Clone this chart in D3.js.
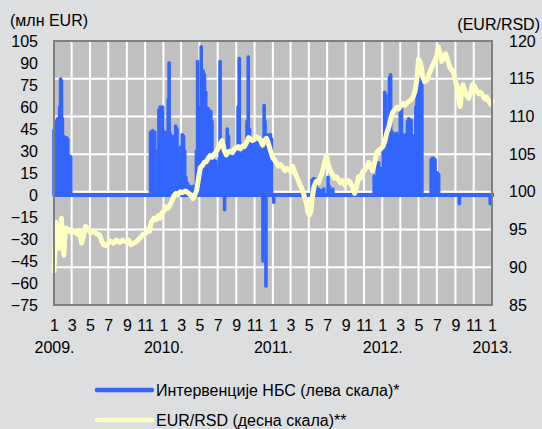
<!DOCTYPE html>
<html>
<head>
<meta charset="utf-8">
<script src="https://cdn.jsdelivr.net/npm/d3@7"></script>
<style>
  body { margin: 0; background: #dddee0; }
  svg { display: block; font-family: "Liberation Sans", Arial, sans-serif; }
</style>
</head>
<body>
<svg id="chart" width="542" height="429"></svg>
<script>
'use strict';

// left scale: interventions, mln EUR
var leftTicks = [105, 90, 75, 60, 45, 30, 15, 0, -15, -30, -45, -60, -75];
// right scale: EUR/RSD
var rightTicks = [120, 115, 110, 105, 100, 95, 90, 85];
var yearLabels = ['2009.', '2010.', '2011.', '2012.', '2013.'];
var legendLabels = ['Интервенције НБС (лева скала)*', 'EUR/RSD (десна скала)**'];

// NBS interventions (date, mln EUR)
var interventions = [
  ['2009-01-01', 44], ['2009-01-04', 44], ['2009-01-07', 44], ['2009-01-10', 50],
  ['2009-01-13', 52], ['2009-01-16', 52], ['2009-01-20', 60], ['2009-01-23', 79],
  ['2009-01-26', 78], ['2009-01-29', 52], ['2009-02-02', 40], ['2009-02-05', 39],
  ['2009-02-09', 39], ['2009-02-12', 39], ['2009-02-16', 38], ['2009-02-19', 27],
  ['2009-02-23', 26], ['2009-02-26', 26],
  ['2009-11-19', 43], ['2009-11-23', 43], ['2009-11-26', 44], ['2009-11-30', 40],
  ['2009-12-03', 43], ['2009-12-07', 30], ['2009-12-12', 3], ['2009-12-17', 58],
  ['2009-12-21', 60], ['2009-12-24', 55], ['2009-12-29', 60],
  ['2010-01-04', 27], ['2010-01-08', 43], ['2010-01-12', 40], ['2010-01-17', 65],
  ['2010-01-20', 90], ['2010-01-23', 42], ['2010-01-27', 40], ['2010-01-30', 38],
  ['2010-02-03', 40], ['2010-02-08', 35], ['2010-02-11', 47], ['2010-02-15', 45],
  ['2010-02-19', 30], ['2010-02-23', 32], ['2010-02-26', 28], ['2010-03-02', 33],
  ['2010-03-05', 41], ['2010-03-09', 40], ['2010-03-13', 30], ['2010-03-17', 12],
  ['2010-03-22', 8], ['2010-03-26', 5], ['2010-03-31', 6], ['2010-04-06', 4],
  ['2010-04-12', 6], ['2010-04-17', 5], ['2010-04-21', 30], ['2010-04-25', 91],
  ['2010-04-29', 35], ['2010-05-03', 60], ['2010-05-07', 101], ['2010-05-11', 85],
  ['2010-05-14', 84], ['2010-05-18', 82], ['2010-05-22', 70], ['2010-05-26', 55],
  ['2010-05-30', 59], ['2010-06-03', 40], ['2010-06-08', 57], ['2010-06-12', 50],
  ['2010-06-16', 25], ['2010-06-20', 20], ['2010-06-25', 23], ['2010-06-29', 18],
  ['2010-07-06', 25], ['2010-07-09', 91], ['2010-07-13', 30], ['2010-07-17', 27],
  ['2010-07-21', 20], ['2010-07-24', -10], ['2010-07-28', 35], ['2010-08-02', 45],
  ['2010-08-06', 40], ['2010-08-10', 30], ['2010-08-15', 27], ['2010-08-19', 25],
  ['2010-08-24', 27], ['2010-08-28', 22], ['2010-09-02', 30], ['2010-09-07', 60],
  ['2010-09-11', 93], ['2010-09-15', 35], ['2010-09-19', 32], ['2010-09-23', 30],
  ['2010-09-27', 33], ['2010-10-02', 28], ['2010-10-07', 50], ['2010-10-11', 94],
  ['2010-10-15', 45], ['2010-10-19', 35], ['2010-10-23', 34], ['2010-10-27', 36],
  ['2010-11-01', 30], ['2010-11-05', 35], ['2010-11-09', 36], ['2010-11-13', 33],
  ['2010-11-17', 35], ['2010-11-22', 33], ['2010-11-26', 30], ['2010-11-29', -45],
  ['2010-12-03', 61], ['2010-12-06', 50], ['2010-12-09', -62], ['2010-12-13', 35],
  ['2010-12-17', 41], ['2010-12-21', 40], ['2010-12-24', 41], ['2010-12-28', 38],
  ['2011-01-04', -5],
  ['2011-05-12', 10], ['2011-05-16', 11], ['2011-05-20', 11], ['2011-05-25', 8],
  ['2011-06-02', 4], ['2011-06-10', 3], ['2011-06-20', 4], ['2011-07-04', 12],
  ['2011-07-08', 6], ['2011-07-20', 4],
  ['2011-12-05', 13], ['2011-12-10', 10], ['2011-12-15', 20], ['2011-12-20', 22],
  ['2011-12-26', 18], ['2012-01-04', 30], ['2012-01-09', 70], ['2012-01-13', 68],
  ['2012-01-17', 43], ['2012-01-21', 45], ['2012-01-25', 80], ['2012-01-29', 82],
  ['2012-02-02', 43], ['2012-02-06', 42], ['2012-02-10', 40], ['2012-02-14', 40],
  ['2012-02-18', 42], ['2012-02-22', 40], ['2012-02-26', 40], ['2012-03-01', 56],
  ['2012-03-05', 59], ['2012-03-09', 40], ['2012-03-13', 40], ['2012-03-17', 41],
  ['2012-03-21', 40], ['2012-03-25', 50], ['2012-03-29', 52], ['2012-04-02', 40],
  ['2012-04-06', 51], ['2012-04-10', 40], ['2012-04-14', 40], ['2012-04-18', 40],
  ['2012-04-22', 60], ['2012-04-26', 81], ['2012-04-30', 83], ['2012-05-04', 80],
  ['2012-05-08', 83], ['2012-05-12', 75],
  ['2012-06-12', 24], ['2012-06-16', 25], ['2012-06-20', 25], ['2012-06-25', 24],
  ['2012-06-29', 15], ['2012-07-03', 15], ['2012-07-07', 14],
  ['2012-09-14', -6], ['2012-12-26', -6]
];

// EUR/RSD exchange rate
var eurRsd = [
  ['2009-01-01', 89.5], ['2009-01-04', 92], ['2009-01-07', 96], ['2009-01-11', 93],
  ['2009-01-14', 95], ['2009-01-17', 92.5], ['2009-01-21', 94.5], ['2009-01-26', 96.5],
  ['2009-01-29', 94], ['2009-02-03', 91.6], ['2009-02-06', 94], ['2009-02-10', 95.2],
  ['2009-02-16', 94.8], ['2009-02-22', 95], ['2009-02-28', 94.6], ['2009-03-10', 94.8],
  ['2009-03-20', 94.4], ['2009-03-26', 94.9], ['2009-04-03', 93.2], ['2009-04-10', 94.2],
  ['2009-04-16', 95.4], ['2009-04-23', 95.2], ['2009-05-03', 94.6], ['2009-05-13', 94.8],
  ['2009-05-23', 94.4], ['2009-06-02', 94.3], ['2009-06-09', 93.5], ['2009-06-15', 93.0],
  ['2009-06-22', 92.9], ['2009-07-01', 93.2], ['2009-07-08', 93.5], ['2009-07-18', 93.2],
  ['2009-07-28', 93.6], ['2009-08-08', 93.3], ['2009-08-18', 93.6], ['2009-08-28', 93.4],
  ['2009-09-07', 93.6], ['2009-09-14', 93.0], ['2009-09-24', 93.2], ['2009-10-03', 93.4],
  ['2009-10-13', 93.8], ['2009-10-24', 94.3], ['2009-11-03', 94.5], ['2009-11-10', 95],
  ['2009-11-16', 94.8], ['2009-11-22', 96], ['2009-11-30', 96.5], ['2009-12-07', 96.3],
  ['2009-12-14', 96.8], ['2009-12-20', 96.5], ['2009-12-27', 97.2],
  ['2010-01-03', 97.5], ['2010-01-10', 98.0], ['2010-01-16', 97.8], ['2010-01-23', 98.3],
  ['2010-01-30', 98.8], ['2010-02-05', 99.5], ['2010-02-12', 99.8], ['2010-02-19', 99.6],
  ['2010-02-26', 100.0], ['2010-03-06', 99.9], ['2010-03-16', 100.1], ['2010-03-26', 99.8],
  ['2010-04-02', 99.6], ['2010-04-09', 99.1], ['2010-04-15', 99.5], ['2010-04-22', 100.2],
  ['2010-04-29', 102.0], ['2010-05-04', 103.2], ['2010-05-11', 103.5], ['2010-05-17', 103.9],
  ['2010-05-24', 104.0], ['2010-05-31', 104.5], ['2010-06-06', 104.8], ['2010-06-13', 104.6],
  ['2010-06-19', 105.0], ['2010-06-26', 105.3], ['2010-07-03', 105.8], ['2010-07-09', 106.3],
  ['2010-07-16', 106.8], ['2010-07-23', 105.5], ['2010-07-30', 104.9], ['2010-08-06', 105.3],
  ['2010-08-12', 105.4], ['2010-08-19', 105.2], ['2010-08-26', 105.7], ['2010-09-02', 105.8],
  ['2010-09-08', 106.0], ['2010-09-15', 105.7], ['2010-09-22', 106.1], ['2010-09-28', 106.0],
  ['2010-10-05', 106.5], ['2010-10-12', 107.2], ['2010-10-18', 107.0], ['2010-10-25', 106.8],
  ['2010-11-01', 107.0], ['2010-11-08', 107.3], ['2010-11-15', 107.1], ['2010-11-21', 106.8],
  ['2010-11-28', 106.2], ['2010-12-04', 106.8], ['2010-12-11', 107.1], ['2010-12-17', 106.4],
  ['2010-12-24', 105.5],
  ['2011-01-01', 104.5], ['2011-01-07', 104.2], ['2011-01-14', 103.8], ['2011-01-20', 103.4],
  ['2011-01-27', 103.6], ['2011-02-03', 103.3], ['2011-02-10', 102.8], ['2011-02-16', 103.1],
  ['2011-02-23', 103.0], ['2011-03-02', 102.7], ['2011-03-08', 103.4], ['2011-03-15', 102.6],
  ['2011-03-22', 101.9], ['2011-03-28', 101.4], ['2011-04-03', 100.8], ['2011-04-10', 100.2],
  ['2011-04-16', 99.4], ['2011-04-23', 98.5], ['2011-04-28', 97.3], ['2011-05-03', 96.9],
  ['2011-05-08', 97.5], ['2011-05-13', 99.4], ['2011-05-19', 100.8], ['2011-05-26', 101.4],
  ['2011-06-02', 101.2], ['2011-06-09', 102.0], ['2011-06-15', 102.6], ['2011-06-22', 103.8],
  ['2011-06-29', 104.8], ['2011-07-05', 103.5], ['2011-07-12', 102.8], ['2011-07-19', 102.3],
  ['2011-07-25', 101.8], ['2011-08-01', 102.0], ['2011-08-08', 101.6], ['2011-08-14', 101.2],
  ['2011-08-21', 101.5], ['2011-08-28', 100.9], ['2011-09-03', 101.2], ['2011-09-10', 101.5],
  ['2011-09-17', 101.2], ['2011-09-24', 100.6], ['2011-10-01', 99.8], ['2011-10-07', 100.6],
  ['2011-10-14', 102.0], ['2011-10-20', 101.8], ['2011-10-27', 102.6], ['2011-11-03', 102.9],
  ['2011-11-10', 103.3], ['2011-11-17', 103.9], ['2011-11-23', 103.4], ['2011-11-30', 102.8],
  ['2011-12-07', 104.0], ['2011-12-14', 105.2], ['2011-12-20', 105.5], ['2011-12-27', 105.7],
  ['2012-01-03', 106.0], ['2012-01-10', 106.8], ['2012-01-16', 107.8], ['2012-01-23', 108.6],
  ['2012-01-30', 109.8], ['2012-02-05', 110.6], ['2012-02-12', 110.9], ['2012-02-19', 111.2],
  ['2012-02-25', 111.0], ['2012-03-03', 111.4], ['2012-03-10', 111.7], ['2012-03-17', 111.5],
  ['2012-03-24', 111.8], ['2012-03-30', 112.0], ['2012-04-06', 112.2], ['2012-04-13', 112.6],
  ['2012-04-19', 113.3], ['2012-04-26', 115.0], ['2012-05-01', 117.6], ['2012-05-06', 117.2],
  ['2012-05-11', 116.4], ['2012-05-15', 115.2], ['2012-05-22', 114.6], ['2012-05-29', 114.8],
  ['2012-06-04', 115.5], ['2012-06-11', 116.2], ['2012-06-18', 116.8], ['2012-06-24', 117.4],
  ['2012-07-01', 118.0], ['2012-07-06', 119.2], ['2012-07-10', 118.6], ['2012-07-17', 117.3],
  ['2012-07-24', 117.8], ['2012-07-30', 118.3], ['2012-08-06', 117.5], ['2012-08-13', 116.5],
  ['2012-08-19', 116.2], ['2012-08-26', 115.8], ['2012-09-02', 114.6], ['2012-09-08', 113.8],
  ['2012-09-13', 112.0], ['2012-09-17', 111.3], ['2012-09-21', 113.0], ['2012-09-26', 114.2],
  ['2012-10-01', 113.5], ['2012-10-08', 112.8], ['2012-10-15', 112.4], ['2012-10-22', 113.2],
  ['2012-10-28', 114.2], ['2012-11-04', 114.0], ['2012-11-11', 113.4], ['2012-11-18', 113.0],
  ['2012-11-24', 113.2], ['2012-12-01', 112.8], ['2012-12-08', 112.3], ['2012-12-14', 112.6],
  ['2012-12-21', 112.0], ['2012-12-28', 111.6], ['2013-01-01', 112.0]
];

var blue = '#3366ff';
var yellow = '#ffffc4';

var plot = {left: 54, right: 492, top: 41, bottom: 305};
var parse = d3.timeParse('%Y-%m-%d');

var x = d3.scaleTime()
    .domain([parse('2009-01-01'), parse('2013-01-01')])
    .range([plot.left, plot.right]);
var yLeft = d3.scaleLinear().domain([-75, 105]).range([plot.bottom, plot.top]);
var yRight = d3.scaleLinear().domain([85, 120]).range([plot.bottom, plot.top]);

var svg = d3.select('#chart');

svg.append('rect')
    .attr('x', plot.left).attr('y', plot.top)
    .attr('width', plot.right - plot.left)
    .attr('height', plot.bottom - plot.top)
    .attr('fill', '#c0c0c0');

// every second month, starting with January
var monthTicks = d3.timeMonth.every(2).range(x.domain()[0], d3.timeDay.offset(x.domain()[1], 1));

// vertical gridlines
svg.append('g')
    .selectAll('line')
    .data(monthTicks.slice(1))
  .enter().append('line')
    .attr('x1', function(d) { return x(d); })
    .attr('x2', function(d) { return x(d); })
    .attr('y1', plot.top).attr('y2', plot.bottom)
    .attr('stroke', '#fff').attr('stroke-width', 2);

// horizontal gridlines follow the right scale
svg.append('g')
    .selectAll('line')
    .data(rightTicks.slice(1, -1))
  .enter().append('line')
    .attr('x1', plot.left).attr('x2', plot.right)
    .attr('y1', function(d) { return yRight(d); })
    .attr('y2', function(d) { return yRight(d); })
    .attr('stroke', '#fff').attr('stroke-width', 2);

// interventions: zero line plus one spike per day
svg.append('line')
    .attr('x1', plot.left).attr('x2', plot.right + 2)
    .attr('y1', yLeft(0)).attr('y2', yLeft(0))
    .attr('stroke', blue).attr('stroke-width', 4);

svg.append('g')
    .selectAll('line')
    .data(interventions)
  .enter().append('line')
    .attr('x1', function(d) { return x(parse(d[0])); })
    .attr('x2', function(d) { return x(parse(d[0])); })
    .attr('y1', yLeft(0))
    .attr('y2', function(d) { return yLeft(d[1]); })
    .attr('stroke', blue)
    .attr('stroke-width', 3.6)
    .attr('stroke-linecap', 'round');

var rateLine = d3.line()
    .x(function(d) { return x(parse(d[0])); })
    .y(function(d) { return yRight(d[1]); });

svg.append('path')
    .datum(eurRsd)
    .attr('d', rateLine)
    .attr('fill', 'none')
    .attr('stroke', yellow)
    .attr('stroke-width', 5)
    .attr('stroke-linejoin', 'round')
    .attr('stroke-linecap', 'round');

// plot frame
svg.append('rect')
    .attr('x', plot.left).attr('y', plot.top)
    .attr('width', plot.right - plot.left)
    .attr('height', plot.bottom - plot.top)
    .attr('fill', 'none')
    .attr('stroke', '#808080').attr('stroke-width', 2);

// axes
function styleAxis(g) {
  g.select('.domain').remove();
  g.selectAll('.tick line').remove();
  g.selectAll('text')
      .attr('fill', '#000')
      .style('font-size', '16px')
      .style('font-family', '"Liberation Sans", Arial, sans-serif');
}

svg.append('g')
    .attr('transform', 'translate(' + plot.left + ',0)')
    .call(d3.axisLeft(yLeft).tickValues(leftTicks).tickSize(0).tickPadding(16))
    .call(styleAxis);

svg.append('g')
    .attr('transform', 'translate(' + plot.right + ',0)')
    .call(d3.axisRight(yRight).tickValues(rightTicks).tickSize(0).tickPadding(17))
    .call(styleAxis);

svg.append('g')
    .attr('transform', 'translate(0,' + plot.bottom + ')')
    .call(d3.axisBottom(x).tickValues(monthTicks).tickSize(0).tickPadding(15)
        .tickFormat(function(d) { return d.getMonth() + 1; }))
    .call(styleAxis);

svg.append('g')
    .attr('transform', 'translate(0,' + (plot.bottom + 37) + ')')
    .call(d3.axisBottom(x)
        .tickValues(yearLabels.map(function(s) { return parse(s.slice(0, 4) + '-01-01'); }))
        .tickSize(0).tickPadding(0)
        .tickFormat(function(d, i) { return yearLabels[i]; }))
    .call(styleAxis);

svg.append('text')
    .attr('x', 10).attr('y', 26)
    .style('font-size', '16px')
    .text('(млн EUR)');

svg.append('text')
    .attr('x', 540).attr('y', 30)
    .attr('text-anchor', 'end')
    .style('font-size', '16px')
    .text('(EUR/RSD)');

// legend
var legend = svg.append('g').selectAll('g')
    .data([blue, yellow])
  .enter().append('g')
    .attr('transform', function(d, i) { return 'translate(97,' + (390 + i * 30) + ')'; });

legend.append('line')
    .attr('x1', 0).attr('x2', 55)
    .attr('stroke', function(d) { return d; })
    .attr('stroke-width', 4.5)
    .attr('stroke-linecap', 'round');

legend.append('text')
    .attr('x', 59).attr('y', 6)
    .style('font-size', '16px')
    .text(function(d, i) { return legendLabels[i]; });
</script>
</body>
</html>
